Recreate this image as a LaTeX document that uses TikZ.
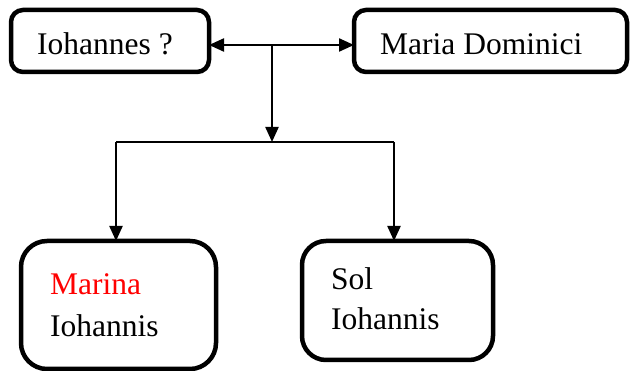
\documentclass[tikz,border=0pt]{standalone}
\usepackage{fontspec}
\setmainfont{Liberation Serif}
\newfontfamily\tmsfont{Liberation Serif}
\usetikzlibrary{arrows.meta}
\begin{document}
\begin{tikzpicture}[x=1pt,y=1pt,
  box/.style={draw=black,line width=4.5pt,rounded corners=#1,minimum width=0pt,minimum height=0pt,inner sep=0pt,outer sep=0pt},
  box/.default=12pt,
  lbl/.style={anchor=base west,inner sep=0pt,font=\tmsfont\fontsize{31.5}{38}\selectfont},
  conn/.style={line width=2.2pt,-{Triangle[length=15pt,width=13pt]}},
  plain/.style={line width=2.2pt}]
\useasboundingbox (0,0) rectangle (630,371);
\node[box, minimum width=198pt, minimum height=62pt] (b1) at (110,330) {};
\node[box, minimum width=273pt, minimum height=62pt] (b2) at (490.5,330) {};
\node[box=26pt, minimum width=195pt, minimum height=128pt] (b3) at (118.5,66) {};
\node[box=24pt, minimum width=191pt, minimum height=119pt] (b4) at (397.5,70.5) {};
\node[lbl] (t1) at (37,316) {Iohannes ?};
\node[lbl] (t2) at (380,316) {Maria Dominici};
\node[lbl,text=red] (t3) at (50,76) {Marina};
\node[lbl] (t4) at (50,34) {Iohannis};
\node[lbl] (t5) at (331,81) {Sol};
\node[lbl] (t6) at (331,41) {Iohannis};
\coordinate (j) at (272,326);
\coordinate (bar) at (272,229);
\coordinate (bl) at (116,229);
\coordinate (br) at (394,229);
\draw[conn] (j) -- (j -| b1.east);
\draw[conn] (j) -- (j -| b2.west);
\draw[conn] (j) -- (bar);
\draw[plain] (bl) -- (br);
\draw[conn] (bl) -- (bl |- b3.north);
\draw[conn] (br) -- (br |- b4.north);
\end{tikzpicture}
\end{document}
